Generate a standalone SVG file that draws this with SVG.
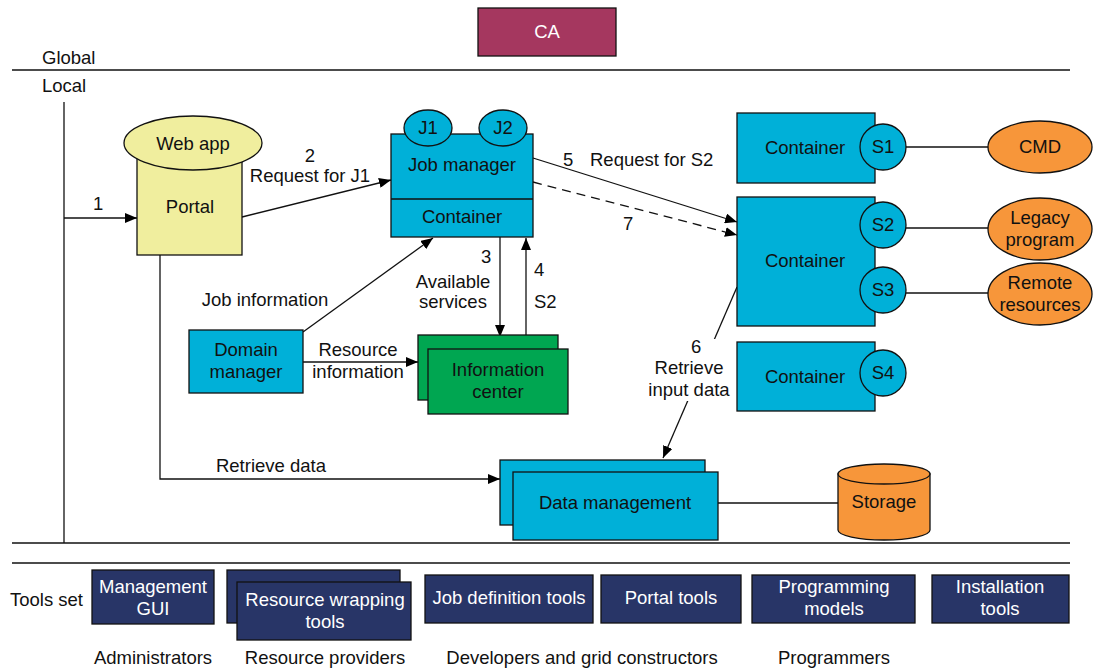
<svg xmlns="http://www.w3.org/2000/svg" width="1097" height="668" viewBox="0 0 1097 668">
<defs>
<marker id="ah" viewBox="0 0 12 10" refX="12" refY="5" markerWidth="12" markerHeight="10" markerUnits="userSpaceOnUse" orient="auto">
<path d="M0,0 L12,5 L0,10 Z" fill="#000"/>
</marker>
</defs>
<style>
text{font-family:"Liberation Sans",Arial,sans-serif;font-size:18.5px;fill:#111;}
.c{text-anchor:middle;}
.w{fill:#fff;}
.cy{fill:#00b0d8;stroke:#111;stroke-width:1.3;}
.gr{fill:#00a651;stroke:#111;stroke-width:1.3;}
.or{fill:#f7963a;stroke:#111;stroke-width:1.3;}
.ye{fill:#f0ee9e;stroke:#111;stroke-width:1.3;}
.nv{fill:#283567;stroke:#111;stroke-width:1.3;}
.ln{fill:none;stroke:#111;stroke-width:1.3;}
.ar{fill:none;stroke:#111;stroke-width:1.3;marker-end:url(#ah);}
.sep{stroke:#111;stroke-width:1.5;}
</style>
<rect width="1097" height="668" fill="#fff"/>

<g id="frame">
<line class="sep" x1="12" y1="70" x2="1070" y2="70"/>
<line class="sep" x1="12" y1="543" x2="1070" y2="543"/>
<line class="sep" x1="12" y1="563" x2="1070" y2="563"/>
<line class="ln" x1="64" y1="102" x2="64" y2="543"/>
<text x="42" y="64">Global</text>
<text x="42" y="92">Local</text>
<text x="10" y="606">Tools set</text>
</g>

<g id="ca"><rect x="478" y="8" width="138" height="48" fill="#a5375f" stroke="#111" stroke-width="1.3"/><text class="c w" x="547" y="38">CA</text></g>

<g id="connectors">
<line class="ar" x1="64" y1="218" x2="137" y2="218"/>
<line class="ar" x1="242" y1="217" x2="391" y2="180"/>
<line class="ar" x1="303" y1="332" x2="433" y2="238"/>
<line class="ar" x1="500" y1="237" x2="500" y2="337"/>
<line class="ar" x1="526" y1="337" x2="526" y2="238"/>
<line class="ar" x1="303" y1="362" x2="418" y2="362"/>
<line class="ar" x1="533" y1="158" x2="737" y2="222"/>
<line class="ar" x1="533" y1="182" x2="737" y2="235" stroke-dasharray="9,6"/>
<line class="ar" x1="737" y1="287" x2="663" y2="458"/>
<polyline class="ar" points="160,255 160,479 500,479"/>
<line class="ln" x1="906" y1="147" x2="988" y2="147"/>
<line class="ln" x1="906" y1="228" x2="988" y2="228"/>
<line class="ln" x1="906" y1="293" x2="988" y2="293"/>
<line class="ln" x1="718" y1="503" x2="838" y2="503"/>
<rect x="647" y="339" width="84" height="62" fill="#fff"/>
<text x="93" y="210">1</text>
<text class="c" x="310" y="162">2</text>
<text class="c" x="310" y="182">Request for J1</text>
<text class="c" x="265" y="306">Job information</text>
<text x="481" y="263">3</text>
<text class="c" x="453" y="288">Available</text>
<text class="c" x="453" y="308">services</text>
<text x="534" y="276">4</text>
<text x="534" y="308">S2</text>
<text class="c" x="358" y="356">Resource</text>
<text class="c" x="358" y="378">information</text>
<text x="563" y="166">5</text>
<text x="590" y="166">Request for S2</text>
<text x="623" y="230">7</text>
<text x="691" y="353">6</text>
<text class="c" x="689" y="374">Retrieve</text>
<text class="c" x="689" y="396">input data</text>
<text class="c" x="271" y="472">Retrieve data</text>
</g>

<g id="portal">
<rect class="ye" x="137" y="145" width="105" height="110"/>
<ellipse class="ye" cx="193" cy="143" rx="69" ry="27"/>
<text class="c" x="193" y="150">Web app</text>
<text class="c" x="190" y="213">Portal</text>
</g>

<g id="jobmanager">
<rect class="cy" x="391" y="134" width="142" height="103"/>
<line class="ln" x1="391" y1="199" x2="533" y2="199"/>
<ellipse class="cy" cx="428" cy="128" rx="24" ry="18"/>
<ellipse class="cy" cx="503" cy="128" rx="24" ry="18"/>
<text class="c" x="428" y="134">J1</text>
<text class="c" x="503" y="134">J2</text>
<text class="c" x="462" y="171">Job manager</text>
<text class="c" x="462" y="223">Container</text>
</g>

<g id="domainmanager">
<rect class="cy" x="189" y="330" width="114" height="63"/>
<text class="c" x="246" y="356">Domain</text>
<text class="c" x="246" y="378">manager</text>
</g>

<g id="infocenter">
<rect class="gr" x="418" y="335" width="140" height="65"/>
<rect class="gr" x="428" y="349" width="140" height="65"/>
<text class="c" x="498" y="376">Information</text>
<text class="c" x="498" y="398">center</text>
</g>

<g id="container1">
<rect class="cy" x="737" y="113" width="138" height="70"/>
<text class="c" x="805" y="154">Container</text>
<circle class="cy" cx="883" cy="147" r="23"/>
<text class="c" x="883" y="153">S1</text>
</g>

<g id="container2">
<rect class="cy" x="737" y="197" width="138" height="129"/>
<text class="c" x="805" y="267">Container</text>
<circle class="cy" cx="883" cy="225" r="23"/>
<text class="c" x="883" y="231">S2</text>
<circle class="cy" cx="883" cy="290" r="23"/>
<text class="c" x="883" y="296">S3</text>
</g>

<g id="container3">
<rect class="cy" x="737" y="342" width="138" height="69"/>
<text class="c" x="805" y="383">Container</text>
<circle class="cy" cx="883" cy="373" r="23"/>
<text class="c" x="883" y="379">S4</text>
</g>

<g id="cmd"><ellipse class="or" cx="1040" cy="147" rx="52" ry="26"/><text class="c" x="1040" y="153">CMD</text></g>
<g id="legacy"><ellipse class="or" cx="1040" cy="229" rx="52" ry="31"/><text class="c" x="1040" y="224">Legacy</text><text class="c" x="1040" y="246">program</text></g>
<g id="remote"><ellipse class="or" cx="1040" cy="294" rx="52" ry="31"/><text class="c" x="1040" y="289">Remote</text><text class="c" x="1040" y="311">resources</text></g>

<g id="datamanagement">
<rect class="cy" x="500" y="460" width="205" height="65"/>
<rect class="cy" x="513" y="472" width="205" height="68"/>
<text class="c" x="615" y="509">Data management</text>
</g>

<g id="storage">
<path class="or" d="M838,474 L838,530 A46,10 0 0 0 930,530 L930,474 Z"/>
<ellipse class="or" cx="884" cy="474" rx="46" ry="10"/>
<text class="c" x="884" y="508">Storage</text>
</g>

<g id="tools">
<rect class="nv" x="92" y="570" width="122" height="54"/>
<text class="c w" x="153" y="593">Management</text>
<text class="c w" x="153" y="615">GUI</text>
<rect class="nv" x="227" y="570" width="173" height="53"/>
<rect class="nv" x="237" y="582" width="174" height="58"/>
<text class="c w" x="325" y="606">Resource wrapping</text>
<text class="c w" x="325" y="628">tools</text>
<rect class="nv" x="425" y="575" width="168" height="48"/>
<text class="c w" x="509" y="604">Job definition tools</text>
<rect class="nv" x="601" y="575" width="140" height="48"/>
<text class="c w" x="671" y="604">Portal tools</text>
<rect class="nv" x="752" y="575" width="163" height="48"/>
<text class="c w" x="834" y="593">Programming</text>
<text class="c w" x="834" y="615">models</text>
<rect class="nv" x="932" y="575" width="137" height="48"/>
<text class="c w" x="1000" y="593">Installation</text>
<text class="c w" x="1000" y="615">tools</text>
<text class="c" x="153" y="664">Administrators</text>
<text class="c" x="325" y="664">Resource providers</text>
<text class="c" x="582" y="664">Developers and grid constructors</text>
<text class="c" x="834" y="664">Programmers</text>
</g>
</svg>
